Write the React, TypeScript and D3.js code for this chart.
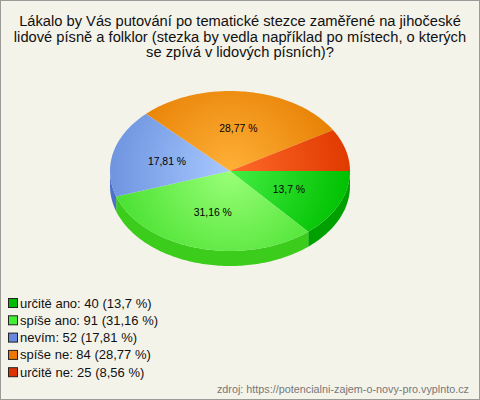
import React from 'react';
import * as d3 from 'd3';

const categories = ['určitě ano', 'spíše ano', 'nevím', 'spíše ne', 'určitě ne'];
const counts = [40, 91, 52, 84, 25];
const percentLabels = ['13,7 %', '31,16 %', '17,81 %', '28,77 %', '8,56 %'];
const titleLines = [
  'Lákalo by Vás putování po tematické stezce zaměřené na jihočeské',
  'lidové písně a folklor (stezka by vedla například po místech, o kterých',
  'se zpívá v lidových písních)?',
];
const sourceText = 'zdroj: https://potencialni-zajem-o-novy-pro.vyplnto.cz';

// top face: [centre, edge], side wall, legend swatch
const topColors = [
  ['#44ee44', '#00c000'],
  ['#99ff77', '#48e030'],
  ['#a8c8ff', '#6f95e0'],
  ['#ffb038', '#e57d00'],
  ['#ff6a2a', '#e03a00'],
];
const sideColors = ['#00a000', '#3ccc1c', '#4f70c8', '#c86400', '#c03000'];
const swatchColors = ['#00bb00', '#44ee33', '#6688dd', '#ee7700', '#dd3300'];

const W = 480;
const H = 400;
const cx = 230;
const cy = 171;
const rx = 120;
const ry = 80;
const depth = 15;

const px = (a: number, dy = 0) => [cx + rx * Math.sin(a), cy - ry * Math.cos(a) + dy];

function arcPts(a0: number, a1: number, dy = 0) {
  const n = Math.max(2, Math.ceil(Math.abs(a1 - a0) / 0.02));
  const pts: number[][] = [];
  for (let i = 0; i <= n; i++) pts.push(px(a0 + ((a1 - a0) * i) / n, dy));
  return pts;
}

function App() {
  const total = d3.sum(counts);
  const pie = d3
    .pie<number>()
    .sort(null)
    .startAngle(Math.PI / 2)
    .endAngle(Math.PI / 2 + 2 * Math.PI);
  const arcs = pie(counts);
  const line = d3.line();

  const sides = arcs.map((d, i) => {
    const a0 = Math.max(d.startAngle, Math.PI / 2);
    const a1 = Math.min(d.endAngle, (3 * Math.PI) / 2);
    if (a1 <= a0) return null;
    const pts = [...arcPts(a0, a1), ...arcPts(a1, a0, depth)];
    return <path key={'s' + i} d={line(pts as any) + 'Z'} fill={sideColors[i]} />;
  });

  const tops = arcs.map((d, i) => {
    const pts = [[cx, cy], ...arcPts(d.startAngle, d.endAngle)];
    return <path key={'t' + i} d={line(pts as any) + 'Z'} fill={`url(#g${i})`} />;
  });

  const labels = arcs.map((d, i) => {
    if (counts[i] / total < 0.1) return null;
    const m = (d.startAngle + d.endAngle) / 2;
    const x = cx + 0.54 * rx * Math.sin(m);
    const y = cy - 0.54 * ry * Math.cos(m);
    return (
      <text key={'l' + i} x={x} y={y} dy="0.35em" textAnchor="middle" fontSize={10.4} fill="#000">
        {percentLabels[i]}
      </text>
    );
  });

  return (
    <svg
      width={W}
      height={H}
      style={{ position: 'absolute', left: 0, top: 0 }}
      fontFamily="'Liberation Sans', Arial, sans-serif"
    >
      <defs>
        {topColors.map((c, i) => (
          <radialGradient key={i} id={`g${i}`} gradientUnits="userSpaceOnUse" cx={cx} cy={cy} r={rx}>
            <stop offset="0" stopColor={c[0]} />
            <stop offset="1" stopColor={c[1]} />
          </radialGradient>
        ))}
      </defs>
      <rect x={0.5} y={0.5} width={W - 1} height={H - 1} fill="#f4f3ea" stroke="#9a9a96" />
      {titleLines.map((t, i) => (
        <text key={i} x={W / 2} y={26 + i * 15.5} textAnchor="middle" fontSize={14.7} fill="#111">
          {t}
        </text>
      ))}
      {sides}
      {tops}
      {labels}
      {categories.map((c, i) => (
        <g key={c} transform={`translate(0, ${303 + i * 17.3})`}>
          <rect x={8.5} y={-4.5} width={9} height={9} fill={swatchColors[i]} stroke="#222" />
          <text x={20} y={0} dy="0.35em" fontSize={13} fill="#111">
            {`${c}: ${counts[i]} (${percentLabels[i]})`}
          </text>
        </g>
      ))}
      <text x={469} y={393} textAnchor="end" fontSize={10.8} fill="#777">
        {sourceText}
      </text>
    </svg>
  );
}

export default App;
